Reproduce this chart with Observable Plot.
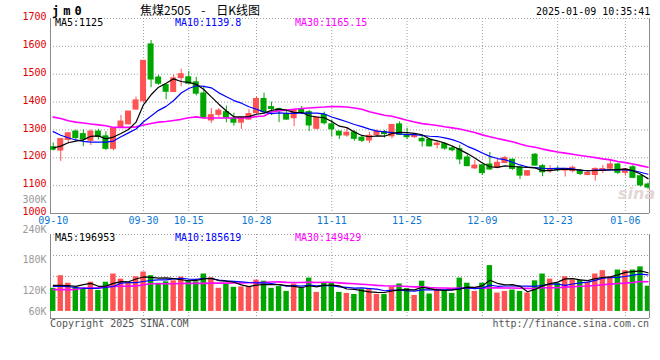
<!DOCTYPE html>
<html><head><meta charset="utf-8">
<script src="https://cdn.jsdelivr.net/npm/d3@7"></script>
<script src="https://cdn.jsdelivr.net/npm/@observablehq/plot@0.6"></script>
<style>
html,body{margin:0;padding:0;background:#fff;}
#wrap{position:relative;width:660px;height:360px;overflow:hidden;font-family:"DejaVu Sans Mono",monospace;}
#wrap svg{position:absolute;left:0;top:0;}
.t{position:absolute;white-space:pre;font-size:10px;line-height:1;font-family:"DejaVu Sans Mono",monospace;}
</style></head><body><div id="wrap"></div>
<script>
// ---- data ----
const dates = ["09-10","09-11","09-12","09-13","09-18","09-19","09-20","09-23","09-24","09-25","09-26","09-27","09-30",
"10-08","10-09","10-10","10-11","10-14","10-15","10-16","10-17","10-18","10-21","10-22","10-23","10-24","10-25","10-28","10-29","10-30","10-31",
"11-01","11-04","11-05","11-06","11-07","11-08","11-11","11-12","11-13","11-14","11-15","11-18","11-19","11-20","11-21","11-22","11-25","11-26","11-27","11-28","11-29",
"12-02","12-03","12-04","12-05","12-06","12-09","12-10","12-11","12-12","12-13","12-16","12-17","12-18","12-19","12-20","12-23","12-24","12-25","12-26","12-27","12-30","12-31",
"01-02","01-03","01-06","01-07","01-08","01-09"];
const opens  = [1238,1226,1264,1294,1285,1261,1294,1277,1232,1308,1320,1373,1403,1607,1488,1461,1436,1486,1489,1471,1431,1334,1354,1364,1340,1326,1337,1360,1411,1382,1375,1356,1342,1375,1364,1304,1354,1320,1294,1280,1291,1272,1262,1282,1292,1277,1320,1282,1274,1268,1265,1246,1249,1234,1231,1201,1162,1173,1176,1164,1181,1193,1166,1136,1211,1170,1152,1160,1154,1152,1154,1138,1138,1154,1161,1176,1146,1166,1134,1104];
const highs  = [1253,1268,1290,1300,1300,1300,1302,1294,1307,1352,1366,1418,1548,1621,1496,1461,1497,1518,1510,1489,1457,1377,1377,1386,1360,1343,1373,1420,1432,1400,1378,1373,1371,1384,1370,1345,1364,1336,1294,1308,1298,1279,1291,1300,1298,1318,1329,1306,1286,1277,1268,1259,1255,1241,1245,1210,1191,1176,1219,1195,1205,1196,1166,1152,1215,1176,1172,1168,1160,1170,1158,1152,1164,1172,1193,1181,1160,1172,1136,1110];
const lows   = [1224,1187,1250,1261,1240,1244,1264,1226,1225,1306,1318,1372,1397,1452,1460,1408,1434,1455,1464,1422,1338,1323,1345,1326,1313,1302,1335,1356,1360,1352,1326,1335,1312,1355,1294,1300,1318,1274,1266,1274,1259,1255,1251,1274,1271,1268,1280,1265,1270,1238,1239,1232,1227,1221,1175,1168,1158,1136,1155,1160,1180,1155,1122,1134,1170,1132,1144,1150,1131,1146,1136,1136,1116,1144,1158,1140,1134,1125,1095,1087];
const closes = [1229,1267,1288,1271,1266,1294,1275,1232,1305,1330,1366,1406,1548,1481,1466,1437,1485,1500,1466,1430,1344,1353,1369,1344,1326,1343,1357,1411,1364,1375,1367,1337,1371,1363,1316,1345,1324,1302,1280,1290,1268,1261,1279,1294,1285,1318,1282,1274,1280,1259,1241,1251,1233,1227,1194,1170,1172,1145,1158,1182,1199,1160,1136,1152,1172,1148,1160,1155,1160,1164,1142,1146,1160,1160,1176,1146,1158,1128,1101,1093];
const volumes = [117800,182000,143800,122900,117800,148900,107100,148900,190700,164700,145400,176500,200900,182000,143800,151000,156000,175000,156000,151000,
190700,171400,117800,140000,123000,125000,125000,159600,154000,117800,126500,102000,140000,116300,169800,97000,143800,142300,97000,91800,
86700,111200,111200,86700,86700,125000,140000,116300,81600,154000,88700,109000,105600,91800,169800,143800,102000,143800,233600,93800,
102000,109000,102000,93800,156000,190700,164700,142300,176500,159600,159600,147400,190700,207600,176500,211000,207600,211000,227000,128500];
// moving-average values before enough days are on the chart
const ma5Head  = [1235,1242,1254,1260];
const ma10Head = [1294,1281,1272,1264,1259,1256,1256,1256,1260];
const ma30Head = [1346,1341,1333,1328,1325,1321,1318,1315,1309,1309,1309,1311,1318,1323,1328,1330,1334,1338,1344,1347,1343,1343,1343,1343,1343,1343,1344,1348,1350];
const vma5Head  = [133000,133000,132000,128000];
const vma10Head = [128000,128000,126000,122000,118000,117000,118000,122000,127000];
const vma30Head = [111000,111000,111000,112000,119000,119000,120000,127000,127000,128000,128000,130000,136000,141000,141000,141000,141000,142000,143000,143000,143000,144000,144000,144000,145000,145000,146000,147000,148000];
const priceTicks = [1000,1100,1200,1300,1400,1500,1600,1700];
const volTicks = [60000,120000,180000,240000,300000];
const volTickLabels = ["60K","120K","180K","240K","300K"];
const xTickLabels = ["09-10","09-30","10-15","10-28","11-11","11-25","12-09","12-23","01-06"];
const priceLegend = ["MA5:1125","MA10:1139.8","MA30:1165.15"];
const volLegend = ["MA5:196953","MA10:185619","MA30:149429"];
const titleCode = "jm0";
const titleText = "焦煤2505 - 日K线图";
const stamp = "2025-01-09 10:35:41";

// ---- build ----
const RED = "#ff5252", GREEN = "#00a600";
const maColors = ["#000000", "#0000ff", "#ff00ff"];
function ma(arr, n, head) {
  return arr.map((_, i) => i < n - 1 ? head[i] : d3.mean(arr.slice(i - n + 1, i + 1)));
}
const m5 = ma(closes, 5, ma5Head), m10 = ma(closes, 10, ma10Head), m30 = ma(closes, 30, ma30Head);
const v5 = ma(volumes, 5, vma5Head), v10 = ma(volumes, 10, vma10Head), v30 = ma(volumes, 30, vma30Head);
const rows = dates.map((d, i) => ({
  i, date: d, o: opens[i], h: highs[i], l: lows[i], c: closes[i], v: volumes[i],
  m5: m5[i], m10: m10[i], m30: m30[i], v5: v5[i], v10: v10[i], v30: v30[i],
  col: closes[i] >= opens[i] ? RED : GREEN
}));
const tickIdx = xTickLabels.map(l => dates.indexOf(l));
const XD = [-0.36, 79.2];
const GRID = {stroke: "#a0a0a0", strokeDasharray: "1,2"};
const BORDER = {stroke: "#8a8a8a"};
const MONO = "DejaVu Sans Mono";
const base = {width: 660, height: 360, marginLeft: 50, marginRight: 11,
  style: {background: "transparent", overflow: "visible"}, color: {type: "identity"}};

const price = Plot.plot({
  ...base, marginTop: 18, marginBottom: 147,
  x: {type: "linear", domain: XD, axis: null},
  y: {domain: [1000, 1700], axis: null},
  marks: [
    Plot.ruleY(priceTicks.filter(v => v > 1000), GRID),
    Plot.ruleX(tickIdx.slice(1), GRID),
    Plot.ruleX([XD[0], XD[1]], BORDER),
    Plot.ruleY([1000], BORDER),
    Plot.ruleX(rows, {x: "i", y1: "l", y2: "h", stroke: "col", strokeWidth: 1, clip: true}),
    Plot.rect(rows, {x1: d => d.i - 0.4, x2: d => d.i + 0.4, y1: "o", y2: "c", fill: "col", insetTop: -0.5, insetBottom: -0.5, clip: true}),
    Plot.line(rows, {x: "i", y: "m30", stroke: maColors[2], strokeWidth: 1.6, clip: true}),
    Plot.line(rows, {x: "i", y: "m10", stroke: maColors[1], strokeWidth: 1.2, clip: true}),
    Plot.line(rows, {x: "i", y: "m5", stroke: maColors[0], strokeWidth: 1.2, clip: true}),
    Plot.text(priceTicks, {y: d => d, text: d => String(d), frameAnchor: "left", textAnchor: "end", dx: -4, dy: -1.5,
      fill: "#e00000", fontSize: 10, fontFamily: MONO}),
    Plot.text(xTickLabels, {x: d => dates.indexOf(d), text: d => d, frameAnchor: "bottom", dy: 10.5,
      fill: "#0a78d2", fontSize: 10, fontFamily: MONO})
  ]
});

const VD = [-36000, 392000];
const volGrid = [1, 2, 3, 4].map(k => VD[0] + k * (VD[1] - VD[0]) / 4);
const vol = Plot.plot({
  ...base, marginTop: 234, marginBottom: 42,
  x: {type: "linear", domain: XD, axis: null},
  y: {domain: VD, axis: null},
  marks: [
    Plot.ruleY(volGrid, GRID),
    Plot.ruleX(tickIdx.slice(1), GRID),
    Plot.ruleX([XD[0], XD[1]], BORDER),
    Plot.ruleY([VD[0]], BORDER),
    Plot.rect(rows, {x1: d => d.i - 0.36, x2: d => d.i + 0.36, y1: 0, y2: "v", fill: "col", clip: true}),
    Plot.line(rows, {x: "i", y: "v30", stroke: maColors[2], strokeWidth: 1.6, clip: true}),
    Plot.line(rows, {x: "i", y: "v10", stroke: maColors[1], strokeWidth: 1.2, clip: true}),
    Plot.line(rows, {x: "i", y: "v5", stroke: maColors[0], strokeWidth: 1.2, clip: true})
  ]
});

const volLabels = Plot.plot({
  ...base, marginTop: 199, marginBottom: 49,
  x: {domain: [0, 1], axis: null},
  y: {domain: [78000, 300000], clamp: true, axis: null},
  marks: [
    Plot.text(volTicks, {y: d => d, text: (d, i) => volTickLabels[i], frameAnchor: "left", textAnchor: "end", dx: -4,
      fill: "#9a9a9a", fontSize: 10, fontFamily: MONO})
  ]
});

const wrap = document.getElementById("wrap");
wrap.append(vol, volLabels, price);

function addText(txt, css) {
  const d = document.createElement("div");
  d.className = "t"; d.textContent = txt;
  Object.assign(d.style, css);
  wrap.append(d);
  return d;
}
addText(titleCode, {left: "52px", top: "5px", fontSize: "12px", fontWeight: "bold", letterSpacing: "4px", color: "#000"});
addText(titleText, {left: "140px", top: "4px", fontSize: "12px", lineHeight: "12px", wordSpacing: "8px", fontFamily: "'Noto Sans CJK SC',sans-serif", color: "#000"});
addText(stamp, {left: "536px", top: "7px", color: "#000"});
const legX = [55, 175, 295];
priceLegend.forEach((t, k) => addText(t, {left: legX[k] + "px", top: "18px", color: maColors[k]}));
volLegend.forEach((t, k) => addText(t, {left: legX[k] + "px", top: "233px", color: maColors[k]}));
addText("Copyright 2025 SINA.COM", {left: "50px", top: "319px", color: "#555"});
addText("http://finance.sina.com.cn", {right: "11px", top: "319px", color: "#555"});
addText("sina", {left: "618px", top: "186px", fontSize: "16px", fontStyle: "italic", fontWeight: "bold", color: "#e4d6d6", fontFamily: "'DejaVu Sans',sans-serif"});
</script></body></html>
